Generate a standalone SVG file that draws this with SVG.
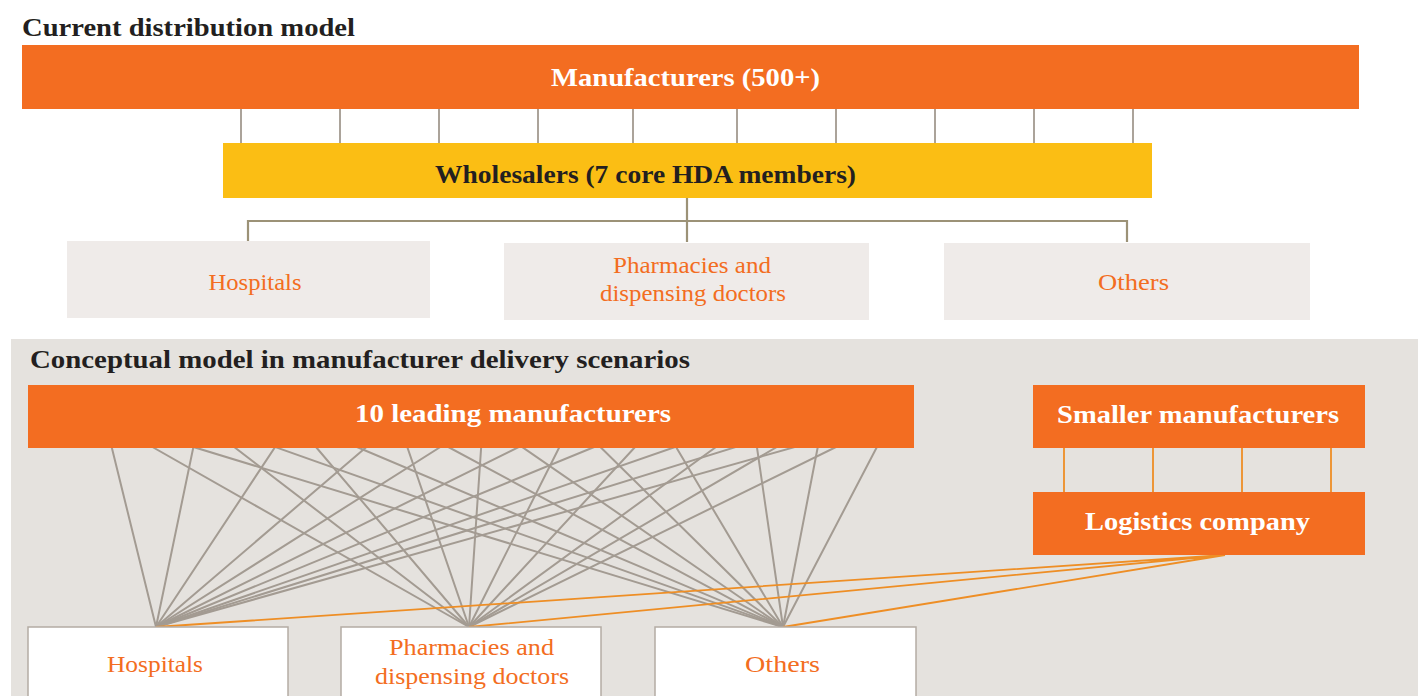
<svg xmlns="http://www.w3.org/2000/svg" width="1418" height="696" viewBox="0 0 1418 696">
  <style>
    .title { font-family: "Liberation Serif", "Times New Roman", serif; font-weight: bold; font-size: 26px; fill: #231F20; }
    .bar-label { font-family: "Liberation Serif", "Times New Roman", serif; font-weight: bold; font-size: 26px; fill: #FFFFFF; text-anchor: middle; }
    .dark-label { font-family: "Liberation Serif", "Times New Roman", serif; font-weight: bold; font-size: 26px; fill: #231F20; }
    .box-label { font-family: "Liberation Serif", "Times New Roman", serif; font-size: 23px; fill: #F36D21; text-anchor: middle; }
    .orange-bar { fill: #F36D21; }
    .yellow-bar { fill: #FBBE14; }
    .light-box { fill: #EFEBE9; }
    .white-box { fill: #FFFFFF; stroke: #B4ACA4; stroke-width: 1.5; }
    .tick { stroke: #ABA39A; stroke-width: 2; fill: none; }
    .tree { stroke: #9C9277; stroke-width: 2.2; fill: none; }
    .mesh { stroke: #A39B92; stroke-width: 2; fill: none; }
    .logi { stroke: #EE8E25; stroke-width: 1.8; fill: none; }
  </style>

  <!-- backdrop for the lower panel -->
  <rect x="11" y="339" width="1407" height="357" fill="#E5E2DE"/>

  <!-- section headings -->
  <text class="title" x="22" y="36" textLength="333" lengthAdjust="spacingAndGlyphs">Current distribution model</text>
  <text class="title" x="30" y="368" textLength="660" lengthAdjust="spacingAndGlyphs">Conceptual model in manufacturer delivery scenarios</text>

  <!-- connectors -->
  <g id="connectors">
    <!-- manufacturers to wholesalers -->
    <g class="tick">
      <line x1="241" y1="109" x2="241" y2="143"/>
      <line x1="340" y1="109" x2="340" y2="143"/>
      <line x1="439" y1="109" x2="439" y2="143"/>
      <line x1="538" y1="109" x2="538" y2="143"/>
      <line x1="633" y1="109" x2="633" y2="143"/>
      <line x1="737" y1="109" x2="737" y2="143"/>
      <line x1="836" y1="109" x2="836" y2="143"/>
      <line x1="935" y1="109" x2="935" y2="143"/>
      <line x1="1034" y1="109" x2="1034" y2="143"/>
      <line x1="1133" y1="109" x2="1133" y2="143"/>
    </g>
    <!-- wholesalers to customers -->
    <path class="tree" d="M687 198 V242 M248 242 V221 H1127 V242"/>

    <!-- direct delivery mesh: each leading manufacturer to each customer group -->
    <g class="mesh">
      <path d="M105 420 L156 627 M105 420 L469 627 M105 420 L783 627"/>
      <path d="M199 420 L156 627 M199 420 L469 627 M199 420 L783 627"/>
      <path d="M293 420 L156 627 M293 420 L469 627 M293 420 L783 627"/>
      <path d="M398 420 L156 627 M398 420 L469 627 M398 420 L783 627"/>
      <path d="M483 420 L156 627 M483 420 L469 627 M483 420 L783 627"/>
      <path d="M573 420 L156 627 M573 420 L469 627 M573 420 L783 627"/>
      <path d="M660 420 L156 627 M660 420 L469 627 M660 420 L783 627"/>
      <path d="M753 420 L156 627 M753 420 L469 627 M753 420 L783 627"/>
      <path d="M823 420 L156 627 M823 420 L469 627 M823 420 L783 627"/>
      <path d="M891 420 L156 627 M891 420 L469 627 M891 420 L783 627"/>
    </g>

    <!-- smaller manufacturers to logistics company -->
    <g class="logi">
      <line x1="1064" y1="448" x2="1064" y2="492"/>
      <line x1="1153" y1="448" x2="1153" y2="492"/>
      <line x1="1242" y1="448" x2="1242" y2="492"/>
      <line x1="1331" y1="448" x2="1331" y2="492"/>
    </g>
    <!-- logistics company to customers -->
    <path class="logi" d="M1225 555 L156 627 M1225 555 L469 627 M1225 555 L783 627"/>
  </g>

  <!-- current model -->
  <g id="manufacturers">
    <rect class="orange-bar" x="22" y="45" width="1337" height="64"/>
    <text class="bar-label" x="685.5" y="86" textLength="269" lengthAdjust="spacingAndGlyphs">Manufacturers (500+)</text>
  </g>
  <g id="wholesalers">
    <rect class="yellow-bar" x="223" y="143" width="929" height="55"/>
    <text class="dark-label" x="435" y="183" textLength="421" lengthAdjust="spacingAndGlyphs">Wholesalers (7 core HDA members)</text>
  </g>
  <g id="hospitals-current">
    <rect class="light-box" x="67" y="241" width="363" height="77"/>
    <text class="box-label" x="255" y="290" textLength="93" lengthAdjust="spacingAndGlyphs">Hospitals</text>
  </g>
  <g id="pharmacies-current">
    <rect class="light-box" x="504" y="243" width="365" height="77"/>
    <text class="box-label" x="692" y="273" textLength="158" lengthAdjust="spacingAndGlyphs">Pharmacies and</text>
    <text class="box-label" x="693" y="301" textLength="186" lengthAdjust="spacingAndGlyphs">dispensing doctors</text>
  </g>
  <g id="others-current">
    <rect class="light-box" x="944" y="243" width="366" height="77"/>
    <text class="box-label" x="1133.5" y="290" textLength="71" lengthAdjust="spacingAndGlyphs">Others</text>
  </g>

  <!-- manufacturer delivery model -->
  <g id="leading-manufacturers">
    <rect class="orange-bar" x="28" y="385" width="886" height="63"/>
    <text class="bar-label" x="513" y="422" textLength="316" lengthAdjust="spacingAndGlyphs">10 leading manufacturers</text>
  </g>
  <g id="smaller-manufacturers">
    <rect class="orange-bar" x="1033" y="385" width="332" height="63"/>
    <text class="bar-label" x="1198" y="423" textLength="282" lengthAdjust="spacingAndGlyphs">Smaller manufacturers</text>
  </g>
  <g id="logistics-company">
    <rect class="orange-bar" x="1033" y="492" width="332" height="63"/>
    <text class="bar-label" x="1197.5" y="530" textLength="225" lengthAdjust="spacingAndGlyphs">Logistics company</text>
  </g>
  <g id="hospitals-direct">
    <rect class="white-box" x="28" y="627" width="260" height="80"/>
    <text class="box-label" x="155" y="672" textLength="96" lengthAdjust="spacingAndGlyphs">Hospitals</text>
  </g>
  <g id="pharmacies-direct">
    <rect class="white-box" x="341" y="627" width="260" height="80"/>
    <text class="box-label" x="471.5" y="655" textLength="165" lengthAdjust="spacingAndGlyphs">Pharmacies and</text>
    <text class="box-label" x="472" y="684" textLength="194" lengthAdjust="spacingAndGlyphs">dispensing doctors</text>
  </g>
  <g id="others-direct">
    <rect class="white-box" x="655" y="627" width="261" height="80"/>
    <text class="box-label" x="782.5" y="672" textLength="75" lengthAdjust="spacingAndGlyphs">Others</text>
  </g>
</svg>
